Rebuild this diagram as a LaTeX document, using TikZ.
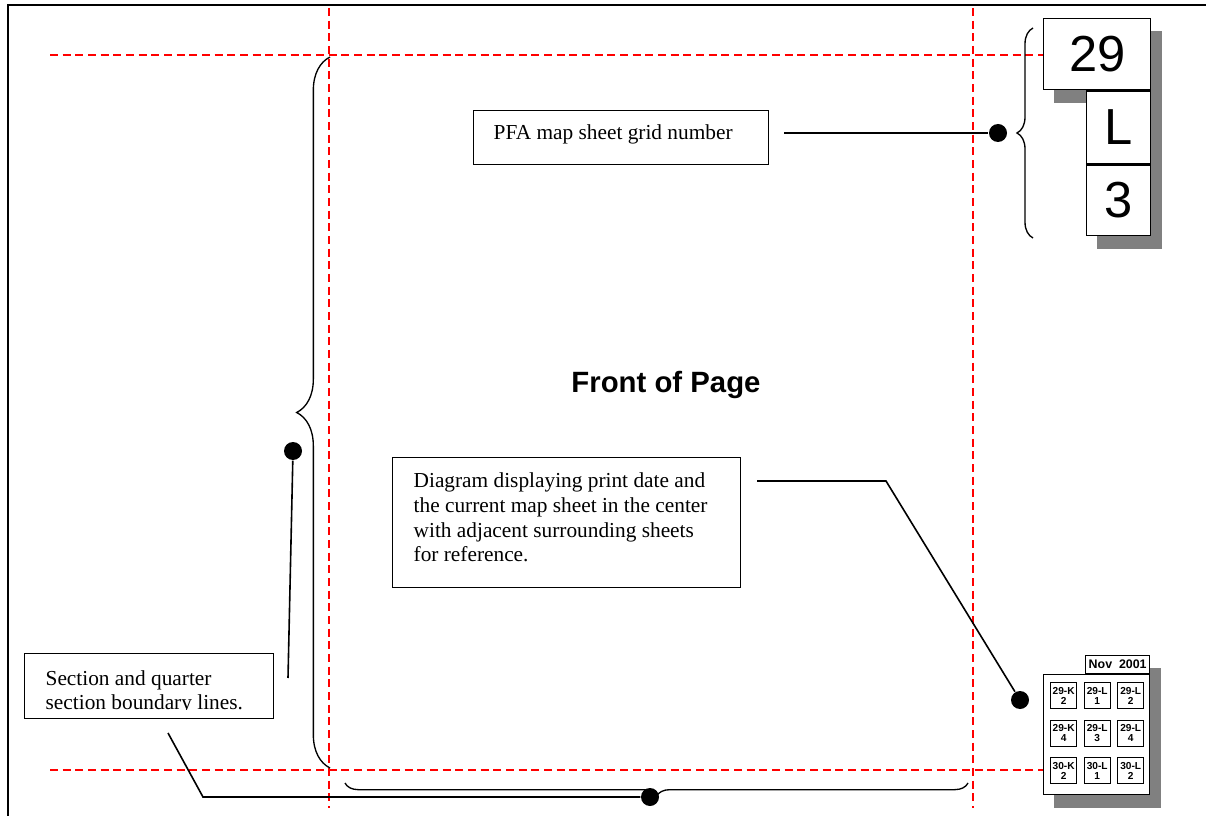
\documentclass[tikz,border=0pt]{standalone}
\usepackage{fontspec}
\setmainfont{Liberation Serif}
\setsansfont{Liberation Sans}
\usetikzlibrary{decorations.pathreplacing,positioning,backgrounds}

\begin{document}
\begin{tikzpicture}[x=0.75pt,y=-0.75pt,line width=1pt]
  \tikzstyle{grid line}=[red,line width=1.5pt,dash pattern=on 6pt off 3.5pt]
  \tikzstyle{callout}=[draw,fill=white,anchor=north west,inner xsep=15.5pt,
                       font=\fontsize{16}{18.4}\selectfont]
  \tikzstyle{leader}=[line width=1.2pt]
  \tikzstyle{dot}=[circle,fill=black,inner sep=0pt,minimum size=13.5pt]
  \tikzstyle{numbox}=[draw,fill=white,inner sep=0pt,font=\sffamily\fontsize{38}{38}\selectfont]
  \tikzstyle{shadow}=[fill=black!50]
  \tikzstyle{sheet}=[draw,fill=white,anchor=north west,align=center,inner sep=0pt,
                     minimum width=19.5pt,minimum height=19.5pt,
                     font=\sffamily\bfseries\fontsize{7.6}{7.4}\selectfont]

  \useasboundingbox (0,0) rectangle (1206,816);

  % page edge
  \draw[line width=1.5pt] (8,816) -- (8,5) -- (1206,5);

  % section and quarter section lines
  \draw[grid line] (50,55) -- (1043,55);
  \draw[grid line] (50,770) -- (1043,770);
  \draw[grid line] (329,8) -- (329,808);
  \draw[grid line] (973,8) -- (973,808);

  % braces
  \draw[decorate,decoration={brace,amplitude=25pt}] (330,768) -- (330,57);
  \draw[decorate,decoration={brace,amplitude=10pt}] (968,783) -- (345,783);
  \draw[decorate,decoration={brace,amplitude=12pt}] (1033,238) -- (1033,28);

  \node[font=\sffamily\bfseries\fontsize{22}{24}\selectfont] (title) at (666,385) {Front of Page};

  % grid number
  \node[numbox,anchor=north west,minimum width=80.25pt,minimum height=53.25pt] (n29) at (1043,18) {29};
  \node[numbox,below left=0pt and 0pt of n29.south east,minimum width=48pt,minimum height=54.75pt] (nL) {L};
  \node[numbox,below=0pt of nL,minimum width=48pt,minimum height=52.5pt] (n3) {3};

  % sheet diagram
  \node[draw,fill=white,anchor=north west,inner sep=0pt,minimum width=79.5pt,minimum height=90pt] (sheetbox) at (1043,674) {};
  \node[draw,fill=white,anchor=south east,inner sep=0pt,minimum width=48pt,minimum height=13.5pt,
        font=\sffamily\bfseries\fontsize{9.3}{10}\selectfont] (date) at (sheetbox.north east) {Nov\ \ 2001};
  \foreach \row/\col/\top/\bot in {0/0/29-K/2,0/1/29-L/1,0/2/29-L/2,
                                   1/0/29-K/4,1/1/29-L/3,1/2/29-L/4,
                                   2/0/30-K/2,2/1/30-L/1,2/2/30-L/2}
    \node[sheet] (cell\row\col) at ({1050+33.5*\col},{682+37.5*\row}) {\top\\\bot};

  \begin{scope}[on background layer]
    \fill[shadow] ([shift={(11,13)}]n29.north west) rectangle ([shift={(11,13)}]n29.south east);
    \fill[shadow] ([shift={(11,13)}]nL.north west) rectangle ([shift={(11,13)}]n3.south east);
    \fill[shadow] ([shift={(11,13)}]date.north west) rectangle ([shift={(11,13)}]date.south east);
    \fill[shadow] ([shift={(11,13)}]sheetbox.north west) rectangle ([shift={(11,13)}]sheetbox.south east);
  \end{scope}

  % callouts
  \node[callout,inner xsep=15pt,inner ysep=10.5pt] (pfabox) at (473,110)
    {\parbox[c][19.5pt][t]{191pt}{PFA map sheet grid number}};
  \node[callout,inner xsep=15.75pt,inner ysep=11.6pt] (diagbox) at (392,457)
    {\parbox[c][74.3pt][t]{229.5pt}{\raggedright Diagram displaying print date and\\
      the current map sheet in the center\\ with adjacent surrounding sheets\\ for reference.}};
  \node[draw,fill=white,anchor=north west,inner sep=0pt,minimum width=186.75pt,minimum height=48.75pt] (secbox) at (24,653) {};
  \begin{scope}
    \clip ([shift={(1,1)}]secbox.north west) rectangle ([shift={(-1,-10)}]secbox.south east);
    \node[anchor=north west,inner xsep=15.75pt,inner ysep=12.5pt,font=\fontsize{16}{18}\selectfont,align=left]
      (sectext) at (secbox.north west) {Section and quarter\\ section boundary lines.};
  \end{scope}

  % markers and leaders
  \node[dot] (pfadot)   at (998,133) {};
  \node[dot] (secdot)   at (293,451) {};
  \node[dot] (bracedot) at (650,797) {};
  \node[dot] (diagdot)  at (1020,700) {};

  \coordinate (pfaend)   at (784,133);
  \coordinate (secend)   at (288,678);
  \coordinate (secfoot)  at (168,733);
  \coordinate (secknee)  at (203,797);
  \coordinate (diagend)  at (757,481);
  \coordinate (diagknee) at (886,481);

  \draw[leader] (pfaend) -- (pfadot);
  \draw[leader] (secend) -- (secdot);
  \draw[leader] (secfoot) -- (secknee) -- (bracedot);
  \draw[leader] (diagend) -- (diagknee) -- (diagdot);

\end{tikzpicture}
\end{document}
